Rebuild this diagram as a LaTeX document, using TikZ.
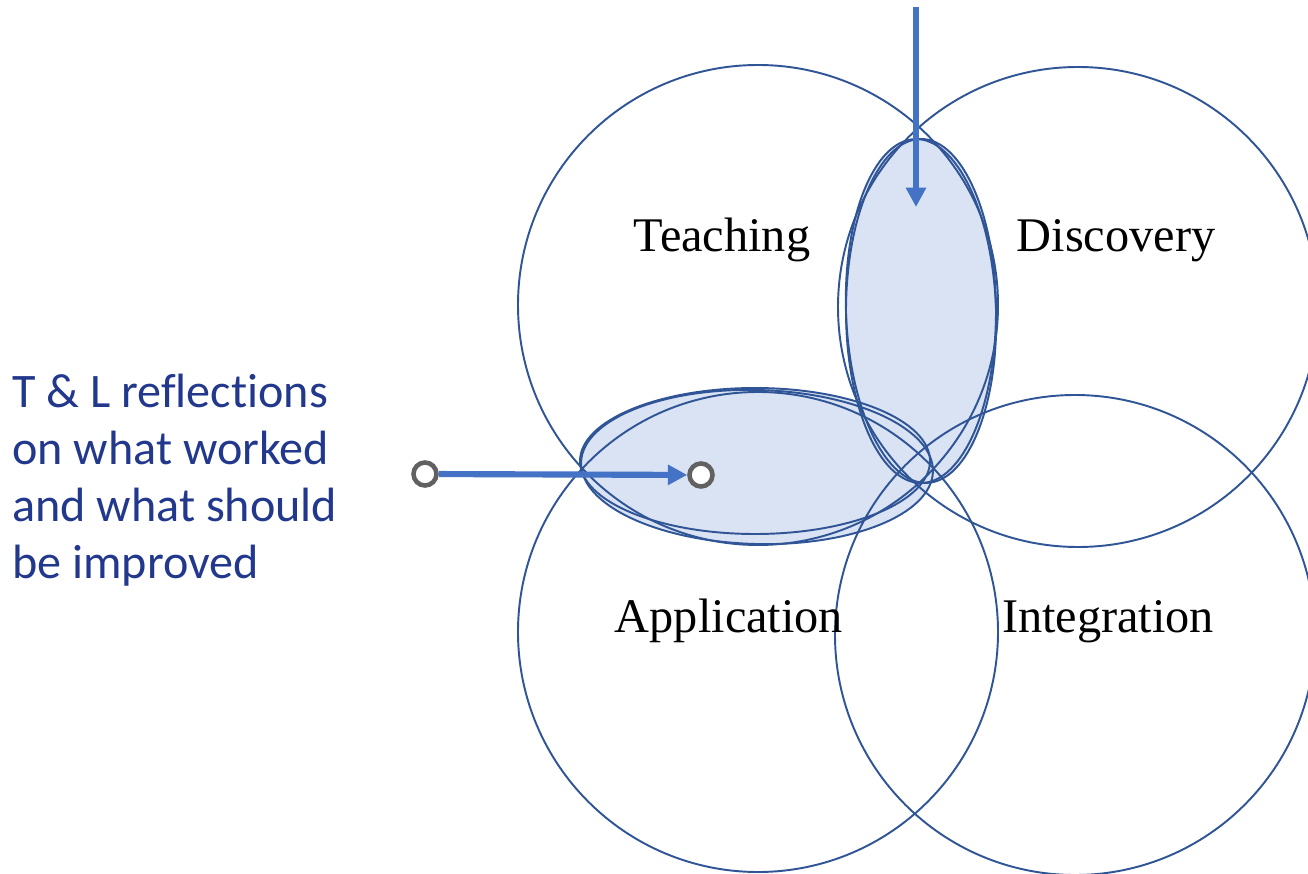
\documentclass[tikz,border=0pt]{standalone}
\usepackage{fontspec}
\setmainfont{Liberation Serif}
\newfontfamily\notefont[Ligatures=NoCommon]{Carlito}
\usetikzlibrary{arrows.meta}
\definecolor{ringblue}{HTML}{2F5597}
\definecolor{lensfill}{HTML}{DAE3F3}
\definecolor{arrowblue}{HTML}{4472C4}
\definecolor{pingray}{HTML}{616161}
\definecolor{noteblue}{HTML}{22388C}
\begin{document}
\begin{tikzpicture}
[x=0.02cm,y=-0.02cm,
 ring/.style={draw=ringblue,line width=1.1pt},
 lens/.style={fill=lensfill},
 pin/.style={circle,draw=pingray,fill=white,line width=2.6pt,minimum size=0.46cm,inner sep=0pt},
 flow/.style={draw=arrowblue,line width=3.5pt,-{Triangle[length=11pt,width=11pt]}},
 area/.style={anchor=base,font=\fontsize{27.5}{33}\selectfont}]
\useasboundingbox (0,0) rectangle (1308,874);
% lens fills first, outlines on top
\foreach \ang in {0,2}
\fill[lens,rotate around={\ang:(921,311)}] (921,311) ellipse [x radius=75,y radius=172];
\fill[lens] (755,461) ellipse [x radius=175,y radius=73];
\fill[lens,rotate around={-1.5:(757,467)}] (757,467) ellipse [x radius=176,y radius=77];
\foreach \cx/\cy in {758/305,1078/307,758/632,1075/635}
\draw[ring] (\cx,\cy) circle [radius=240];
\foreach \ang in {0,2}
\draw[ring,rotate around={\ang:(921,311)}] (921,311) ellipse [x radius=75,y radius=172];
\draw[ring] (755,461) ellipse [x radius=175,y radius=73];
\draw[ring,rotate around={-1.5:(757,467)}] (757,467) ellipse [x radius=176,y radius=77];
% labels
\node[area] (teach) at (722,252) {Teaching};
\node[area] (disc) at (1116,252) {Discovery};
\node[area] (appl) at (729,632) {Application};
\node[area] (integ) at (1108,632) {Integration};
\node[anchor=base west,align=left,text=noteblue,inner sep=0pt,
 font=\notefont\fontsize{27.4}{32.3}\selectfont] (note) at (12,578)
 {T \& L reflections\\on what worked\\and what should\\be improved};
% arrows
\coordinate (top) at (916,7);
\coordinate (drop) at (916,207);
\draw[flow] (top) -- (drop);
\node[pin] (src) at (425,474) {};
\node[pin] (dst) at (701,475) {};
\draw[flow] (src) -- (dst);
\end{tikzpicture}
\end{document}
